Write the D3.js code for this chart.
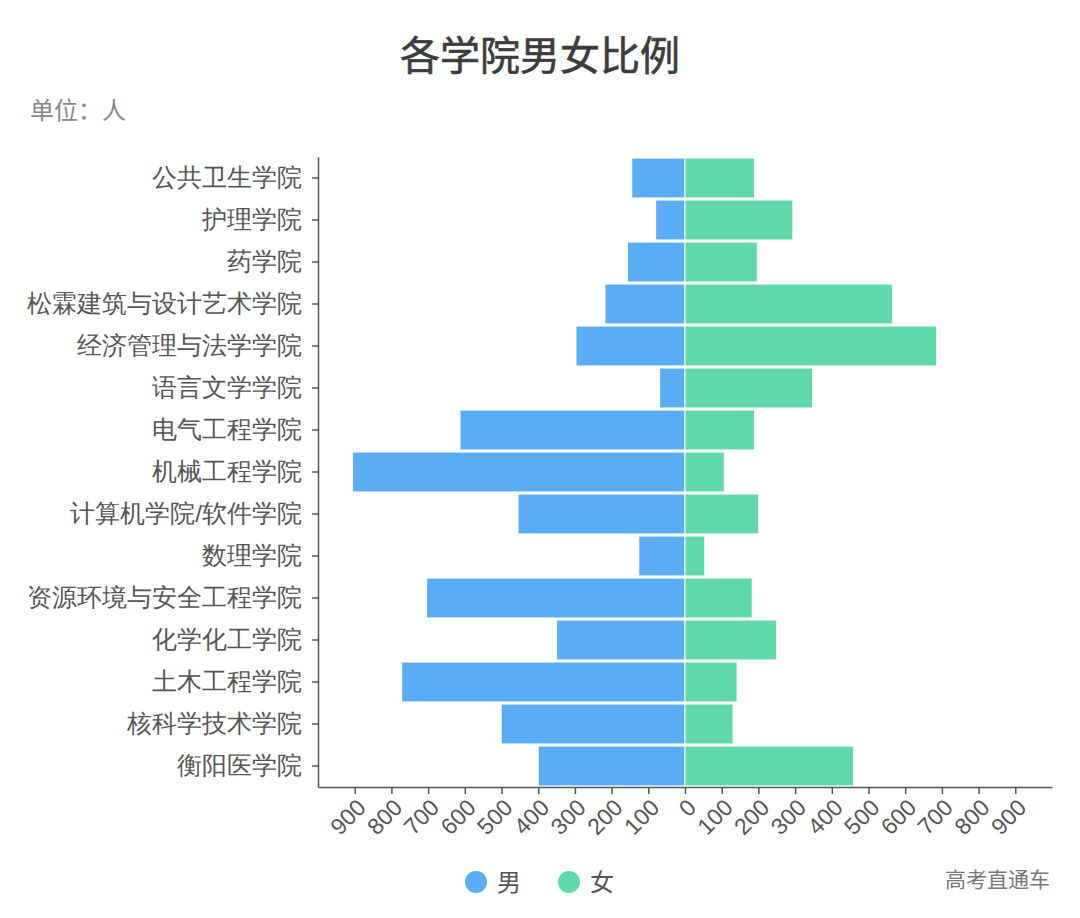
<!DOCTYPE html>
<html><head><meta charset="utf-8">
<script src="https://cdn.jsdelivr.net/npm/d3@7"></script>
<style>body{margin:0;background:#fff}svg{display:block;font-family:"Noto Sans CJK SC","Noto Sans",sans-serif}</style>
</head><body><svg id="c" width="1080" height="918"></svg>
<script>
const categories = ["公共卫生学院","护理学院","药学院","松霖建筑与设计艺术学院","经济管理与法学学院","语言文学学院","电气工程学院","机械工程学院","计算机学院/软件学院","数理学院","资源环境与安全工程学院","化学化工学院","土木工程学院","核科学技术学院","衡阳医学院"];
const male = [145,80,157,218,297,69,613,906,455,126,704,350,772,501,400];
const female = [190,294,197,565,686,348,190,107,201,54,183,250,142,131,459];
const xTicks = [-900,-800,-700,-600,-500,-400,-300,-200,-100,0,100,200,300,400,500,600,700,800,900];
const seriesNames = ["男","女"];
const colors = ["#5aadf5","#5fd8aa"];

const svg = d3.select("#c");
const x = d3.scaleLinear().domain([-1000,1000]).range([318,1052]);
const y = d3.scaleBand().domain(categories).range([157,787]).paddingInner(0.05).paddingOuter(0.025);

svg.append("text").attr("x",540).attr("y",70).attr("text-anchor","middle")
  .attr("font-size",40).attr("font-weight",400).attr("fill","#3c3c3c").attr("stroke","#3c3c3c").attr("stroke-width",0.6)
  .text("各学院男女比例");
svg.append("text").attr("x",30).attr("y",119).attr("font-size",24).attr("fill","#888").text("单位：人");

const g = svg.append("g");
g.selectAll("rect.m").data(categories).join("rect").attr("class","m")
  .attr("x",(d,i)=>x(-male[i])).attr("width",(d,i)=>x(0)-x(-male[i]))
  .attr("y",d=>y(d)).attr("height",y.bandwidth()).attr("fill",colors[0])
  .attr("stroke","#fff").attr("stroke-width",1);
g.selectAll("rect.f").data(categories).join("rect").attr("class","f")
  .attr("x",x(0)).attr("width",(d,i)=>x(female[i])-x(0))
  .attr("y",d=>y(d)).attr("height",y.bandwidth()).attr("fill",colors[1])
  .attr("stroke","#fff").attr("stroke-width",1);

const xa = svg.append("g").attr("transform","translate(0,787)")
  .call(d3.axisBottom(x).tickValues(xTicks).tickFormat(d=>Math.abs(d)).tickSize(7).tickSizeOuter(0));
xa.select(".domain").attr("stroke","#555").attr("stroke-width",1.5);
xa.selectAll(".tick line").attr("stroke","#555").attr("stroke-width",1.5);
xa.selectAll(".tick text").attr("font-size",23).attr("fill","#555")
  .attr("text-anchor","end").attr("dy",0).attr("dx",0)
  .attr("transform","translate(12,22) rotate(-45)").attr("y",0).attr("x",0);

const ya = svg.append("g").attr("transform","translate(318,0)")
  .call(d3.axisLeft(y).tickSize(6).tickSizeOuter(0).tickPadding(10));
ya.select(".domain").attr("stroke","#555").attr("stroke-width",1.5);
ya.selectAll(".tick line").attr("stroke","#555").attr("stroke-width",1.5);
ya.selectAll(".tick text").attr("font-size",24.5).attr("fill","#555");

const lg = svg.append("g");
seriesNames.forEach((n,i)=>{
  const cx = 476 + i*93;
  lg.append("circle").attr("cx",cx).attr("cy",882).attr("r",11).attr("fill",colors[i]);
  lg.append("text").attr("x",cx+21).attr("y",891).attr("font-size",24).attr("fill","#555").text(n);
});
svg.append("text").attr("x",1050).attr("y",887).attr("text-anchor","end").attr("font-size",21).attr("fill","#777").text("高考直通车");
</script></body></html>
